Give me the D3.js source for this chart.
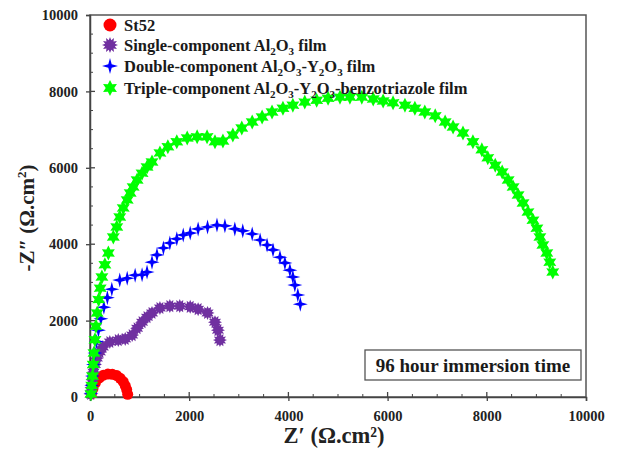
<!DOCTYPE html>
<html><head><meta charset="utf-8">
<script src="https://cdn.jsdelivr.net/npm/d3@7"></script>
<style>body{margin:0;background:#fff}svg{display:block}text{font-family:"Liberation Serif","Times New Roman",serif;font-weight:bold}</style>
</head><body><svg id="c" width="617" height="452"></svg>
<script>
// ---- data (Z', -Z'') in ohm.cm2 ----
const seriesNames = ["St52", "Single", "Double", "Triple"];
const st52 = [[30,80],[60,220],[110,370],[190,500],[270,570],[360,600],[450,595],[540,560],[610,490],[670,400],[710,300],[740,190],[760,70]];
const single = [[15,80],[30,250],[50,450],[70,650],[100,850],[140,1020],[200,1180],[260,1310],[400,1440],[570,1490],[710,1520],[850,1620],[950,1800],[1050,1960],[1150,2090],[1250,2200],[1410,2330],[1610,2380],[1810,2380],[2020,2360],[2180,2300],[2370,2200],[2520,1960],[2580,1750],[2620,1490]];
const double = [[20,100],[35,300],[50,550],[70,850],[100,1150],[130,1450],[170,1750],[220,2050],[280,2350],[350,2600],[440,2820],[600,3060],[750,3110],[910,3190],[1050,3200],[1150,3270],[1250,3530],[1350,3720],[1480,3900],[1610,4030],[1750,4140],[1880,4240],[2020,4290],[2180,4400],[2370,4450],[2560,4500],[2720,4480],[2920,4400],[3080,4350],[3270,4270],[3430,4110],[3570,3980],[3690,3850],[3830,3660],[3930,3510],[4030,3320],[4090,3140],[4130,2930],[4190,2670],[4240,2430]];
const triple = [[20,80],[35,300],[50,550],[65,850],[80,1150],[100,1500],[120,1850],[145,2200],[175,2550],[205,2850],[240,3140],[300,3460],[370,3770],[470,4190],[540,4450],[600,4710],[670,4950],[750,5160],[810,5340],[870,5500],[950,5680],[1050,5860],[1150,6020],[1250,6150],[1410,6390],[1570,6550],[1750,6680],[1960,6780],[2160,6810],[2360,6810],[2520,6680],[2680,6700],[2880,6860],[3060,7040],[3270,7200],[3470,7330],[3670,7460],[3890,7560],[4090,7640],[4330,7720],[4570,7770],[4800,7820],[5040,7850],[5240,7850],[5480,7850],[5710,7800],[5910,7750],[6110,7700],[6350,7640],[6550,7560],[6750,7460],[6960,7360],[7160,7200],[7320,7070],[7520,6910],[7720,6680],[7900,6470],[8020,6260],[8170,6070],[8310,5890],[8430,5680],[8530,5500],[8630,5290],[8730,5080],[8830,4840],[8930,4630],[9010,4420],[9070,4190],[9130,3980],[9210,3770],[9270,3530],[9330,3270]];
const xTicks = [0,2000,4000,6000,8000,10000];
const yTicks = [0,2000,4000,6000,8000,10000];
const annotation = "96 hour immersion time";

// ---- layout ----
const svg = d3.select("#c");
const L = 90, R = 586, T = 15, B = 397;
const x = d3.scaleLinear().domain([0,10000]).range([L,R]);
const y = d3.scaleLinear().domain([0,10000]).range([B,T]);

function starPath(n, ro, ri){
  let p = [];
  for(let i=0;i<2*n;i++){
    const a = -Math.PI/2 + i*Math.PI/n;
    const r = i%2===0 ? ro : ri;
    p.push([r*Math.cos(a), r*Math.sin(a)]);
  }
  return "M" + p.map(d=>d[0].toFixed(2)+","+d[1].toFixed(2)).join("L") + "Z";
}
const circlePath = r => `M${r},0A${r},${r} 0 1,1 ${-r},0A${r},${r} 0 1,1 ${r},0Z`;

const styles = [
  {data: st52, color:"#ff0000", path: circlePath(5.5), leg: circlePath(6.5)},
  {data: single, color:"#7030a0", path: starPath(12,7,4.5), leg: starPath(12,8,5)},
  {data: double, color:"#0000ff", path: starPath(4,7.5,2.2), leg: starPath(4,8,2.4)},
  {data: triple, color:"#00ff00", path: starPath(6,7.5,4), leg: starPath(6,8,4.3)}
];

// frame
svg.append("rect").attr("x",L).attr("y",T).attr("width",R-L).attr("height",B-T)
  .attr("fill","none").attr("stroke","#555").attr("stroke-width",1.5);

// axes
const xAxis = svg.append("g").attr("transform",`translate(0,${B})`)
  .call(d3.axisBottom(x).tickValues(xTicks).tickFormat(d3.format("d")).tickSize(4).tickPadding(10));
const yAxis = svg.append("g").attr("transform",`translate(${L},0)`)
  .call(d3.axisLeft(y).tickValues(yTicks).tickFormat(d3.format("d")).tickSize(4).tickPadding(8));
[xAxis,yAxis].forEach(g=>{
  g.select(".domain").attr("stroke","#444").attr("stroke-width",1.5);
  g.selectAll(".tick line").attr("stroke","#444").attr("stroke-width",1.3);
  g.selectAll(".tick text").attr("font-size",14.5).attr("fill","#222")
   .style("font-family",'"Liberation Serif",serif').style("font-weight","bold");
});
// inward parts of major ticks and minor ticks
const minor = d3.range(500,10000,500).filter(v=>v%2000!==0);
svg.append("g").selectAll("line").data(xTicks.slice(1,-1)).join("line")
  .attr("x1",d=>x(d)).attr("x2",d=>x(d)).attr("y1",B).attr("y2",B-5).attr("stroke","#444").attr("stroke-width",1.3);
svg.append("g").selectAll("line").data(yTicks.slice(1,-1)).join("line")
  .attr("y1",d=>y(d)).attr("y2",d=>y(d)).attr("x1",L).attr("x2",L+5).attr("stroke","#444").attr("stroke-width",1.3);
svg.append("g").selectAll("line").data(minor).join("line")
  .attr("x1",d=>x(d)).attr("x2",d=>x(d)).attr("y1",B).attr("y2",B-3).attr("stroke","#444").attr("stroke-width",1);
svg.append("g").selectAll("line").data(minor).join("line")
  .attr("y1",d=>y(d)).attr("y2",d=>y(d)).attr("x1",L).attr("x2",L+3).attr("stroke","#444").attr("stroke-width",1);

// data markers
styles.forEach(s=>{
  svg.append("g").selectAll("path").data(s.data).join("path")
    .attr("d",s.path).attr("fill",s.color)
    .attr("transform",d=>`translate(${x(d[0])},${y(d[1])})`);
});

// axis titles
const xt = svg.append("text").attr("x",(L+R)/2 - 4).attr("y",443).attr("text-anchor","middle")
  .attr("font-size",22.5).attr("fill","#222");
xt.text("Z′ (Ω.cm²)");
const yt = svg.append("text").attr("transform",`translate(34,${(T+B)/2+12}) rotate(-90)`)
  .attr("text-anchor","middle").attr("font-size",21).attr("fill","#222");
yt.append("tspan").text("-Z″ (Ω.cm");
yt.append("tspan").attr("font-size",13).attr("dy",-8).text("2");
yt.append("tspan").attr("dy",8).text(")");

// legend
const legendParts = [
  [["St52"]],
  [["Single-component Al"],["2","s"],["O"],["3","s"],[" film"]],
  [["Double-component Al"],["2","s"],["O"],["3","s"],["-Y"],["2","s"],["O"],["3","s"],[" film"]],
  [["Triple-component Al"],["2","s"],["O"],["3","s"],["-Y"],["2","s"],["O"],["3","s"],["-benzotriazole film"]]
];
const legY = [25,45,66,88];
legendParts.forEach((parts,i)=>{
  svg.append("path").attr("d",styles[i].leg).attr("fill",styles[i].color)
    .attr("transform",`translate(110,${legY[i]})`);
  const t = svg.append("text").attr("x",124).attr("y",legY[i]+5.5).attr("font-size",16.5).attr("fill","#1a1a1a");
  let sub=false;
  parts.forEach(p=>{
    const ts = t.append("tspan").text(p[0]);
    if(p[1]==="s"){ ts.attr("font-size",11).attr("dy",sub?0:4); sub=true; }
    else if(sub){ ts.attr("dy",-4); sub=false; }
  });
});

// annotation box
svg.append("rect").attr("x",365).attr("y",350).attr("width",216).attr("height",30)
  .attr("fill","#fff").attr("stroke","#555").attr("stroke-width",1.3);
svg.append("text").attr("x",473).attr("y",371.5).attr("text-anchor","middle")
  .attr("font-size",19).attr("fill","#1a1a1a").text(annotation);
</script></body></html>
